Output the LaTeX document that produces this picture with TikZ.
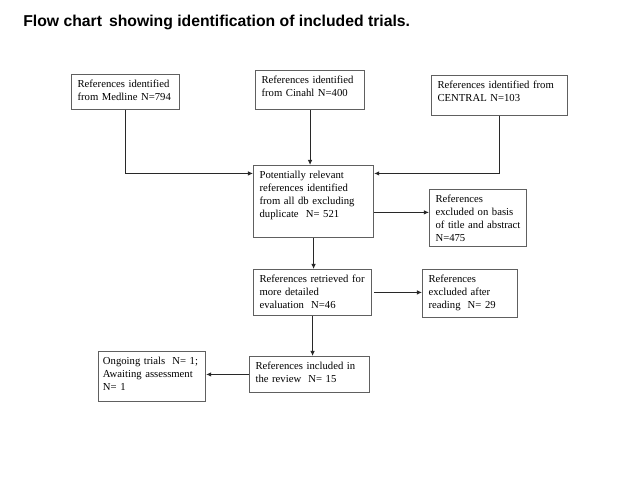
\documentclass[tikz,border=0pt]{standalone}
\usepackage{fontspec}
\setmainfont{Liberation Serif}
\newfontfamily\headfont{Liberation Sans}
\usepackage{tikz}
\usetikzlibrary{arrows.meta, positioning, calc}
\definecolor{boxline}{RGB}{96,96,96}
\definecolor{linkline}{RGB}{40,40,40}
\hyphenpenalty=10000

\begin{document}
\begin{tikzpicture}[x=0.025cm, y=-0.025cm,
    refbox/.style={draw=boxline, line width=0.8pt, anchor=north west, align=left,
      inner xsep=0.15cm, inner ysep=0pt, text height=9pt,
      font=\fontsize{7.6}{9.4}\selectfont},
    link/.style={draw=linkline, line width=0.6pt, -{Latex[length=3.6pt, width=3.2pt]}}]
  \fill[white] (0,0) rectangle (640,480);
  \useasboundingbox (0,0) rectangle (640,480);

  \node[anchor=base west, font=\headfont\bfseries\fontsize{11.2}{13}\selectfont, inner sep=0pt]
    (title) at (23,27) {Flow chart\, showing identification of included trials.};

  \node[refbox, text width=2.40cm, text depth=15.6pt] (medline) at (71,74)
    {References identified\\from Medline N=794};
  \node[refbox, text width=2.425cm, text depth=18.5pt] (cinahl) at (255,70)
    {References identified\\from Cinahl N=400};
  \node[refbox, text width=3.10cm, text depth=19.2pt] (central) at (431,75)
    {References identified from\\CENTRAL N=103};
  \node[refbox, text width=2.70cm, text depth=42pt] (pool) at (253,165)
    {Potentially relevant\\references identified\\from all db excluding\\duplicate\ \ N= 521};
  \node[refbox, text width=2.125cm, text depth=31.3pt] (exclabs) at (429,189)
    {References\\excluded on basis\\of title and abstract\\N=475};
  \node[refbox, text width=2.65cm, text depth=23.5pt] (retrieved) at (253,269)
    {References retrieved for\\more detailed\\evaluation\ \ N=46};
  \node[refbox, text width=2.075cm, text depth=24.9pt] (exclread) at (422,269)
    {References\\excluded after\\reading\ \ N= 29};
  \node[refbox, text width=2.70cm, text depth=16.4pt] (included) at (249,356)
    {References included in\\the review\ \ N= 15};
  \node[refbox, inner xsep=0.11cm, text width=2.455cm, text depth=26.3pt] (ongoing) at (98,351)
    {Ongoing trials\ \ N=~1;\\Awaiting assessment\\N= 1};

  \draw[link] (medline.south) |- ([yshift=-6pt]pool.north west);
  \draw[link] (cinahl.south) -- (cinahl.south |- pool.north);
  \draw[link] (central.south) |- ([yshift=-6pt]pool.north east);
  \draw[link] ([yshift=-7.8pt]pool.east) -- ([yshift=-7.8pt]pool.east -| exclabs.west);
  \draw[link] (pool.south) -- (pool.south |- retrieved.north);
  \draw[link] ([xshift=1.5pt]retrieved.east) -- (retrieved.east -| exclread.west);
  \draw[link] (retrieved.south) -- (retrieved.south |- included.north);
  \draw[link] (included.west) -- (included.west -| ongoing.east);
\end{tikzpicture}
\end{document}
